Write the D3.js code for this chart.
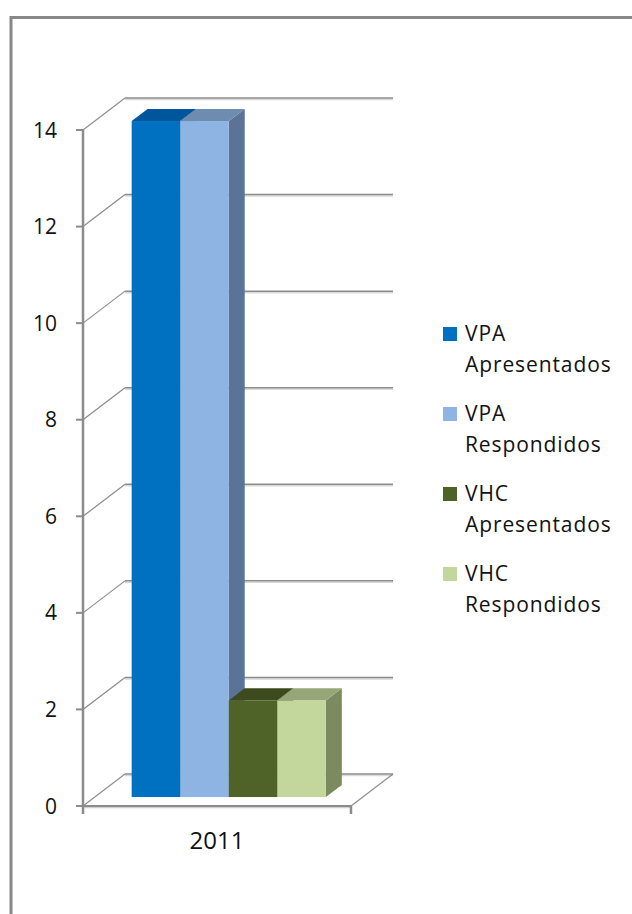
<!DOCTYPE html>
<html>
<head>
<meta charset="utf-8">
<script src="https://cdn.jsdelivr.net/npm/d3@7"></script>
<style>
  html, body { margin: 0; padding: 0; background: #fff; }
  text { font-family: "Open Sans", sans-serif; fill: #111; }
</style>
</head>
<body>
<view></view>
<script>
// chart data
var categories = ["2011"];
var seriesNames = [["VPA", "Apresentados"], ["VPA", "Respondidos"], ["VHC", "Apresentados"], ["VHC", "Respondidos"]];
var values = [14, 14, 2, 2];
var yTicks = [0, 2, 4, 6, 8, 10, 12, 14];

var frontColor = ["#0070c0", "#8eb4e3", "#4f6228", "#c3d69b"],
    topColor = ["#00569a", "#6e8bb0", "#3c4a1e", "#97a678"],
    sideColor = ["#005494", "#5a7397", "#3b4a1e", "#7c8a60"];

var width = 632, height = 914;

var svg = d3.select("view")
    .append("svg")
    .attr("width", width)
    .attr("height", height);

// outer frame
svg.append("path")
    .attr("d", "M11,914V17.5H632")
    .attr("fill", "none")
    .attr("stroke", "#888")
    .attr("stroke-width", 3);

// front plane scales
var y = d3.scaleLinear().domain([0, 14]).range([806, 130]);
var x = d3.scaleBand().domain(categories).range([83, 351]).paddingInner(0).paddingOuter(0.19);
var x1 = d3.scaleBand().domain(d3.range(values.length)).range([0, x.bandwidth()]);

// depth offset (back wall)
var depthX = 42, depthY = -32;
function off(t) { return [depthX * t, depthY * t]; }

var grid = svg.append("g");

// back wall gridlines + side wall diagonals
yTicks.forEach(function(v) {
    var yy = y(v);
    grid.append("line")
        .attr("x1", x.range()[0] + depthX).attr("x2", x.range()[1] + depthX)
        .attr("y1", yy + depthY + 1.5).attr("y2", yy + depthY + 1.5)
        .attr("stroke", "#d9d9d9").attr("stroke-width", 1.5);
    grid.append("line")
        .attr("x1", x.range()[0] + depthX).attr("x2", x.range()[1] + depthX)
        .attr("y1", yy + depthY).attr("y2", yy + depthY)
        .attr("stroke", "#8c8c8c").attr("stroke-width", 1.5);
    grid.append("line")
        .attr("x1", x.range()[0]).attr("y1", yy)
        .attr("x2", x.range()[0] + depthX).attr("y2", yy + depthY)
        .attr("stroke", "#8c8c8c").attr("stroke-width", 1.2);
    // tick mark
    grid.append("line")
        .attr("x1", x.range()[0] - 7).attr("x2", x.range()[0])
        .attr("y1", yy).attr("y2", yy)
        .attr("stroke", "#8c8c8c").attr("stroke-width", 2);
    svg.append("text")
        .attr("x", 57)
        .attr("y", yy)
        .attr("dy", "0.36em")
        .attr("text-anchor", "end")
        .attr("font-size", 21)
        .text(v);
});

// floor: front edge and right diagonal
grid.append("line")
    .attr("x1", x.range()[0]).attr("x2", x.range()[1])
    .attr("y1", y(0) + 1.5).attr("y2", y(0) + 1.5)
    .attr("stroke", "#d0d0d0").attr("stroke-width", 1.5);
grid.append("line")
    .attr("x1", x.range()[0]).attr("x2", x.range()[1])
    .attr("y1", y(0)).attr("y2", y(0))
    .attr("stroke", "#8c8c8c").attr("stroke-width", 2);
grid.append("line")
    .attr("x1", x.range()[1]).attr("y1", y(0))
    .attr("x2", x.range()[1] + depthX).attr("y2", y(0) + depthY)
    .attr("stroke", "#8c8c8c").attr("stroke-width", 1.2);

// vertical axis line and category ticks
grid.append("line")
    .attr("x1", x.range()[0]).attr("x2", x.range()[0])
    .attr("y1", y(14)).attr("y2", y(0) + 8)
    .attr("stroke", "#8c8c8c").attr("stroke-width", 2.5);
grid.append("line")
    .attr("x1", x.range()[1]).attr("x2", x.range()[1])
    .attr("y1", y(0)).attr("y2", y(0) + 8)
    .attr("stroke", "#8c8c8c").attr("stroke-width", 2.5);

// bars
var tFront = 0.28, tBack = 0.66;
var bars = svg.append("g");
values.forEach(function(v, i) {
    var xa = x(categories[0]) + x1(i), xb = xa + x1.bandwidth();
    var f = off(tFront), b = off(tBack);
    var top = y(v), bot = y(0);
    // side
    bars.append("polygon")
        .attr("points", [[xb + f[0], top + f[1]], [xb + b[0], top + b[1]], [xb + b[0], bot + b[1]], [xb + f[0], bot + f[1]]].join(" "))
        .attr("fill", sideColor[i]);
    // top
    bars.append("polygon")
        .attr("points", [[xa + f[0], top + f[1]], [xb + f[0], top + f[1]], [xb + b[0], top + b[1]], [xa + b[0], top + b[1]]].join(" "))
        .attr("fill", topColor[i]);
    // front
    bars.append("rect")
        .attr("x", xa + f[0])
        .attr("y", top + f[1])
        .attr("width", xb - xa)
        .attr("height", bot - top)
        .attr("fill", frontColor[i]);
});

// category label
svg.append("text")
    .attr("x", x(categories[0]) + x.bandwidth() / 2)
    .attr("y", 849)
    .attr("text-anchor", "middle")
    .attr("font-size", 24)
    .text(categories[0]);

// legend
var legend = svg.append("g").attr("transform", "translate(443,327)");
seriesNames.forEach(function(n, i) {
    var g = legend.append("g").attr("transform", "translate(0," + (i * 80) + ")");
    g.append("rect")
        .attr("width", 14).attr("height", 14)
        .attr("fill", frontColor[i]);
    g.append("text")
        .attr("x", 22).attr("y", 14)
        .attr("font-size", 21)
        .attr("letter-spacing", 0.9)
        .text(n[0]);
    g.append("text")
        .attr("x", 22).attr("y", 45)
        .attr("font-size", 21)
        .attr("letter-spacing", 0.9)
        .text(n[1]);
});
</script>
</body>
</html>
